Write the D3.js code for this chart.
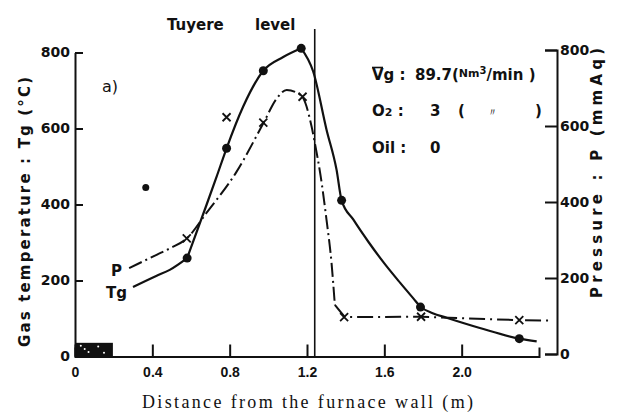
<!DOCTYPE html>
<html>
<head>
<meta charset="utf-8">
<script src="https://cdn.jsdelivr.net/npm/d3@7"></script>
<style>
  body { margin: 0; background: #fff; }
  text { fill: #111; }
</style>
</head>
<body>
<div id="chart"></div>
<script>
const tgMarkX = [0.58, 0.784, 0.974, 1.17, 1.379, 1.787, 2.298];
const tgMarkY = [259, 548, 752, 811, 411, 130, 47];
const pMarkX = [0.578, 0.784, 0.974, 1.177, 1.392, 1.79, 2.298];
const pMarkY = [304, 623, 609, 677, 97, 98, 89];
const strayX = [0.366];
const strayY = [445];

// hand-drawn curves
const tgLowX = [0.30, 0.42, 0.49, 0.58];
const tgLowY = [183, 212, 228, 259];
const tgRiseX = [0.58, 0.681, 0.733, 0.784, 0.87, 0.974, 1.077, 1.17];
const tgRiseY = [259, 400, 474, 548, 658, 752, 788, 811];
const tgFallX = [1.17, 1.232, 1.301, 1.353, 1.379, 1.44, 1.52, 1.6, 1.68, 1.75, 1.787, 1.85, 1.922, 2.094, 2.298, 2.388];
const tgFallY = [811, 750, 597, 491, 411, 360, 300, 245, 195, 153, 131, 114, 102, 75, 47, 40];
const pCurveX = [0.28, 0.422, 0.491, 0.578, 0.681, 0.836, 0.974, 1.043, 1.095, 1.172, 1.224, 1.241, 1.27, 1.301, 1.327, 1.344];
const pCurveY = [226, 261, 278, 304, 372, 480, 607, 672, 695, 679, 598, 554, 470, 353, 239, 129];
const pFlatX = [1.344, 1.396, 1.79, 2.298, 2.448];
const pFlatY = [129, 97, 98, 89, 88];

const wallX = [0, 0.196];
const wallY = [0, 36];
const tuyereX = 1.24;
const tuyereTop = 862;

const xTicks = [0, 0.4, 0.8, 1.2, 1.6, 2.0];
const yTicks = [0, 200, 400, 600, 800];

const W = 621, H = 420;
const SANS = "'DejaVu Sans', sans-serif";

const svg = d3.select("#chart").append("svg")
  .attr("width", W).attr("height", H);

const x = d3.scaleLinear([0, 2.4], [75, 539]);
const yL = d3.scaleLinear([0, 800], [356.5, 52.5]);
const yR = d3.scaleLinear([0, 800], [354, 50]);

const zip = (xs, ys) => xs.map((v, i) => [v, ys[i]]);

// furnace wall block
svg.append("rect")
  .attr("x", x(wallX[0])).attr("y", yL(wallY[1]))
  .attr("width", x(wallX[1]) - x(wallX[0]))
  .attr("height", yL(wallY[0]) - yL(wallY[1]))
  .attr("fill", "#111");
svg.append("g").selectAll("circle")
  .data([[0.03, 28], [0.07, 12], [0.12, 26], [0.15, 10], [0.05, 20]])
  .join("circle")
  .attr("cx", (d) => x(d[0])).attr("cy", (d) => yL(d[1]))
  .attr("r", 1).attr("fill", "#fff");

// axes
const styleAxis = (g, size, family) => {
  g.selectAll("path, line").attr("stroke", "#111").attr("stroke-width", 2);
  g.selectAll("text")
    .style("font-family", family)
    .style("font-weight", "bold")
    .style("font-size", size + "px")
    .attr("fill", "#111");
};

svg.append("g")
  .attr("transform", `translate(${x(0)},0)`)
  .call(d3.axisLeft(yL).tickValues(yTicks).tickSizeInner(-8).tickSizeOuter(0).tickPadding(5))
  .call((g) => styleAxis(g, 14, SANS));

svg.append("g")
  .attr("transform", `translate(0,${yL(0)})`)
  .call(d3.axisBottom(x).tickValues(xTicks)
    .tickFormat((d) => (d === 0 ? "0" : d.toFixed(1)))
    .tickSizeInner(-12).tickSizeOuter(-9).tickPadding(11))
  .call((g) => styleAxis(g, 14, "'Liberation Sans', sans-serif"));

svg.append("g")
  .attr("transform", "translate(557,0)")
  .call(d3.axisRight(yR).tickValues(yTicks).tickSizeInner(-12).tickSizeOuter(-12).tickPadding(3))
  .call((g) => styleAxis(g, 14, SANS));

// tuyere level line
svg.append("line")
  .attr("x1", x(tuyereX)).attr("x2", x(tuyereX))
  .attr("y1", yL(tuyereTop)).attr("y2", yL(0))
  .attr("stroke", "#111").attr("stroke-width", 1.6);

// curves
const lineL = d3.line().x((d) => x(d[0])).y((d) => yL(d[1])).curve(d3.curveMonotoneX);
const lineR = d3.line().x((d) => x(d[0])).y((d) => yR(d[1])).curve(d3.curveMonotoneX);
const lineRLin = d3.line().x((d) => x(d[0])).y((d) => yR(d[1]));

[zip(tgLowX, tgLowY), zip(tgRiseX, tgRiseY), zip(tgFallX, tgFallY)].forEach((seg) =>
  svg.append("path").attr("d", lineL(seg))
    .attr("fill", "none").attr("stroke", "#111").attr("stroke-width", 2.2));

svg.append("path").attr("d", lineR(zip(pCurveX, pCurveY)))
  .attr("fill", "none").attr("stroke", "#111").attr("stroke-width", 2)
  .attr("stroke-dasharray", "14,4,2,4");
svg.append("path").attr("d", lineRLin(zip(pFlatX, pFlatY)))
  .attr("fill", "none").attr("stroke", "#111").attr("stroke-width", 2)
  .attr("stroke-dasharray", "16,5,2,5");

// markers
svg.append("g").selectAll("circle")
  .data(zip(tgMarkX, tgMarkY))
  .join("circle")
  .attr("cx", (d) => x(d[0])).attr("cy", (d) => yL(d[1]))
  .attr("r", 4.5).attr("fill", "#111");

svg.append("g").selectAll("circle")
  .data(zip(strayX, strayY))
  .join("circle")
  .attr("cx", (d) => x(d[0])).attr("cy", (d) => yL(d[1]))
  .attr("r", 3.5).attr("fill", "#111");

svg.append("g").selectAll("path")
  .data(zip(pMarkX, pMarkY))
  .join("path")
  .attr("transform", (d) => `translate(${x(d[0])},${yR(d[1])})`)
  .attr("d", "M-4,-4L4,4M-4,4L4,-4")
  .attr("stroke", "#111").attr("stroke-width", 1.8).attr("fill", "none");

// text
const label = (tx, ty, str, size, opts = {}) =>
  svg.append("text")
    .attr("x", tx).attr("y", ty)
    .style("font-family", opts.family || SANS)
    .style("font-weight", opts.weight || "bold")
    .style("font-size", size + "px")
    .text(str);

label(167, 30, "Tuyere", 15);
label(255, 30, "level", 15);
label(102, 92, "a)", 16, { weight: "normal" });
label(111, 276, "P", 15);
label(106, 298, "Tg", 15);

// operating conditions
label(372, 80, "Vg :", 15);
svg.append("line").attr("x1", 372).attr("x2", 383).attr("y1", 67.5).attr("y2", 67.5)
  .attr("stroke", "#111").attr("stroke-width", 1.6);
label(415, 80, "89.7", 15);
const unit = label(452, 80, "(", 15);
unit.append("tspan").attr("dy", -3).style("font-size", "11px").text("Nm");
unit.append("tspan").attr("dy", -3).style("font-size", "10px").text("3");
unit.append("tspan").attr("dy", 6).style("font-size", "15px").text("/min )");

const o2 = label(372, 116, "O", 15);
o2.append("tspan").style("font-size", "11px").text("2");
o2.append("tspan").text(" :");
label(430, 116, "3", 15);
label(458, 116, "(", 15);
label(487, 116, "\u3003", 11, { weight: "normal" });
label(535, 116, ")", 15);

label(372, 153, "Oil :", 15);
label(430, 153, "0", 15);

// axis titles
svg.append("text")
  .attr("transform", "translate(30,212) rotate(-90)")
  .attr("text-anchor", "middle")
  .attr("textLength", 270).attr("lengthAdjust", "spacing")
  .style("font-family", SANS).style("font-weight", "bold").style("font-size", "15px")
  .text("Gas temperature : Tg (\u00B0C)");

svg.append("text")
  .attr("transform", "translate(602,173) rotate(-90)")
  .attr("text-anchor", "middle")
  .attr("textLength", 250).attr("lengthAdjust", "spacing")
  .style("font-family", SANS).style("font-weight", "bold").style("font-size", "15px")
  .text("Pressure : P (mmAq)");

svg.append("text")
  .attr("x", 142).attr("y", 408)
  .attr("textLength", 331).attr("lengthAdjust", "spacing")
  .style("font-family", "'Liberation Serif', serif").style("font-size", "18px")
  .text("Distance from the furnace wall (m)");
</script>
</body>
</html>
